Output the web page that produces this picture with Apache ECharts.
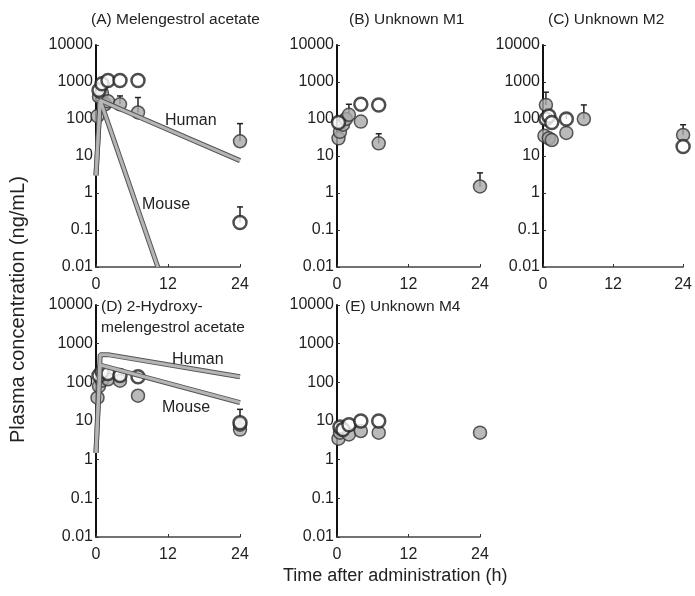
<!DOCTYPE html>
<html>
<head>
<meta charset="utf-8">
<script src="https://cdn.jsdelivr.net/npm/echarts@6/dist/echarts.min.js"></script>
<style>
  html, body { margin: 0; padding: 0; background: #fff; }
  #chart { width: 695px; height: 596px; }
</style>
</head>
<body>
<div id="chart"></div>
<script>
// x ticks (h) and y decades (ng/mL)
const xTicks = [0, 12, 24]
const yTicks = [0.01, 0.1, 1, 10, 100, 1000, 10000]

const panelTitles = ['(A) Melengestrol acetate', '(B) Unknown M1', '(C) Unknown M2',
  '(D) 2-Hydroxy-\nmelengestrol acetate', '(E) Unknown M4']

// [time, conc] filled (grey) and open circles per panel
const filledA = [[0.25, 120], [0.5, 400], [1, 500], [1.5, 250], [2, 300], [4, 250], [7, 150], [24, 25]]
const openA = [[0.5, 600], [1, 900], [2, 1100], [4, 1100], [7, 1100], [24, 0.16]]
const filledB = [[0.25, 30], [0.5, 45], [1, 70], [1.5, 100], [2, 130], [4, 85], [7, 22], [24, 1.5]]
const openB = [[0.25, 80], [4, 250], [7, 240]]
const filledC = [[0.25, 35], [0.5, 240], [1, 30], [1.5, 27], [4, 42], [7, 100], [24, 37]]
const openC = [[0.5, 100], [1, 120], [1.5, 80], [4, 100], [24, 18]]
const filledD = [[0.25, 40], [0.5, 80], [1, 110], [2, 120], [4, 110], [7, 45], [24, 6], [24, 8]]
const openD = [[0.5, 150], [1, 190], [2, 170], [4, 150], [7, 140], [24, 9]]
const filledE = [[0.25, 3.5], [0.5, 5], [1, 6], [2, 4.5], [4, 5.5], [7, 5], [24, 5]]
const openE = [[0.5, 7], [1, 6], [2, 8], [4, 10], [7, 10]]

// error bars: [time, value, upper]
const errA = [[4, 250, 420], [7, 150, 380], [24, 25, 75], [24, 0.16, 0.42]]
const errB = [[2, 130, 250], [7, 22, 40], [24, 1.5, 3.5]]
const errC = [[0.5, 240, 530], [4, 100, 135], [7, 100, 240], [24, 37, 70]]
const errD = [[7, 140, 180], [24, 9, 20]]
const errE = []

// fitted curves
const humanA = [[0, 3], [0.7, 320], [24, 7.5]]
const mouseA = [[0, 3], [0.7, 320], [10.3, 0.01]]
const humanD = [[0, 1.5], [0.7, 520], [2, 520], [24, 140]]
const mouseD = [[0, 1.5], [0.7, 280], [24, 30]]

const FONT = '"Liberation Sans", Arial, sans-serif'
const grids = [
  { left: 96, top: 45, width: 144, height: 222 },
  { left: 337, top: 45, width: 143, height: 222 },
  { left: 543, top: 45, width: 142, height: 222 },
  { left: 96, top: 305, width: 144, height: 232 },
  { left: 337, top: 305, width: 143, height: 232 },
]

const xAxis = grids.map((g, i) => ({
  gridIndex: i, type: 'value', min: 0, max: 24, interval: 12,
  axisLine: { lineStyle: { color: '#444', width: 1.5 } },
  axisTick: { inside: true, length: 3, lineStyle: { color: '#333' } },
  splitLine: { show: false },
  axisLabel: { color: '#222', fontSize: 16, fontFamily: FONT, margin: 10 },
}))
const yAxis = grids.map((g, i) => ({
  gridIndex: i, type: 'log', logBase: 10, min: 0.01, max: 10000,
  axisLine: { show: true, lineStyle: { color: '#111', width: 2 } },
  axisTick: { inside: true, length: 3, lineStyle: { color: '#333' } },
  splitLine: { show: false },
  axisLabel: {
    color: '#222', fontSize: 16, fontFamily: FONT, margin: 3,
    formatter: (v) => String(+Number(v).toPrecision(2)),
  },
}))

function errSeries(i, data) {
  return {
    type: 'custom', xAxisIndex: i, yAxisIndex: i, z: 1, data,
    renderItem(params, api) {
      const lo = api.coord([api.value(0), api.value(1)])
      const hi = api.coord([api.value(0), api.value(2)])
      const st = { stroke: '#222', lineWidth: 1.5 }
      return {
        type: 'group', children: [
          { type: 'line', shape: { x1: lo[0], y1: lo[1], x2: hi[0], y2: hi[1] }, style: st },
          { type: 'line', shape: { x1: hi[0] - 3, y1: hi[1], x2: hi[0] + 3, y2: hi[1] }, style: st },
        ],
      }
    },
  }
}
function dots(i, data, open) {
  return {
    type: 'scatter', xAxisIndex: i, yAxisIndex: i, data, symbolSize: 13, z: open ? 4 : 3,
    itemStyle: open
      ? { color: '#fff', borderColor: '#222', borderWidth: 2.5 }
      : { color: '#a9a9a9', borderColor: '#333', borderWidth: 1.5 },
  }
}
function curve(i, data) {
  const base = { type: 'line', xAxisIndex: i, yAxisIndex: i, data, symbol: 'none', silent: true }
  return [
    { ...base, z: 5, lineStyle: { color: '#555', width: 5 } },
    { ...base, z: 6, lineStyle: { color: '#b5b5b5', width: 3 } },
  ]
}

const filled = [filledA, filledB, filledC, filledD, filledE]
const open = [openA, openB, openC, openD, openE]
const errs = [errA, errB, errC, errD, errE]

const series = []
grids.forEach((g, i) => {
  series.push(errSeries(i, errs[i]), dots(i, filled[i], false), dots(i, open[i], true))
})
series.push(...curve(0, humanA), ...curve(0, mouseA), ...curve(3, humanD), ...curve(3, mouseD))

const titlePos = [[91, 9], [349, 9], [548, 9], [101, 296], [345, 296]]
const title = panelTitles.map((t, i) => ({
  text: t, left: titlePos[i][0], top: titlePos[i][1], padding: 0,
  textStyle: { fontSize: 15.5, fontWeight: 'normal', color: '#222', fontFamily: FONT, lineHeight: 21 },
}))

const txt = (x, y, s, size) => ({
  type: 'text', left: x, top: y, z: 10,
  style: { text: s, fill: '#222', font: (size || 16) + 'px ' + FONT },
})

const chart = echarts.init(document.getElementById('chart'))
chart.setOption({
  animation: false,
  title,
  grid: grids,
  xAxis,
  yAxis,
  series,
  graphic: [
    txt(165, 113, 'Human'),
    txt(142, 197, 'Mouse'),
    txt(172, 352, 'Human'),
    txt(162, 400, 'Mouse'),
    txt(283, 567, 'Time after administration (h)', 18),
    {
      type: 'text', x: 8, y: 443, rotation: Math.PI / 2, z: 10,
      style: { text: 'Plasma concentration (ng/mL)', font: '20px ' + FONT, fill: '#222' },
    },
  ],
})
</script>
</body>
</html>
